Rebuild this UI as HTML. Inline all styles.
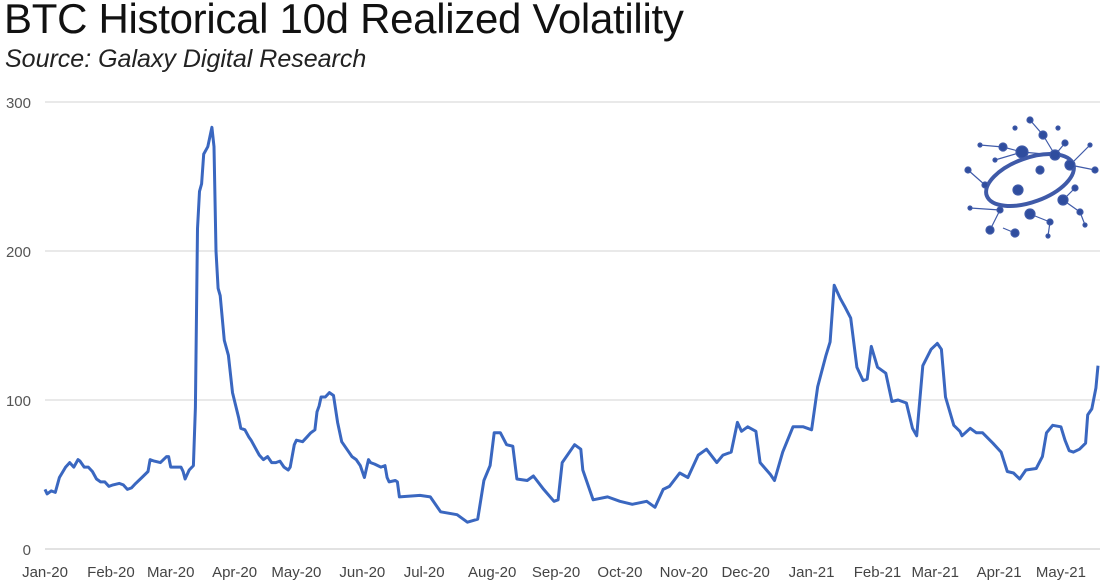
<!DOCTYPE html>
<html><head><meta charset="utf-8">
<style>
body{margin:0;background:#fff;width:1100px;height:580px;overflow:hidden;font-family:"Liberation Sans",sans-serif}
#title{position:absolute;left:4px;top:-5px;font-size:42px;color:#111;letter-spacing:-0.3px;white-space:nowrap}
#sub{position:absolute;left:5px;top:45px;font-size:25px;font-style:italic;color:#222;white-space:nowrap}
svg{position:absolute;left:0;top:0}
</style></head><body>
<div id="title">BTC Historical 10d Realized Volatility</div>
<div id="sub">Source: Galaxy Digital Research</div>
<svg id="chart" width="1100" height="580"></svg>
<script>
const dayIndex=[0,1,3,5,7,10,12,14,16,17,19,21,23,25,27,29,31,33,36,38,40,42,44,47,50,51,53,56,59,60,61,64,66,67,68,70,72,73,74,75,76,77,79,81,82,83,84,85,87,89,91,94,95,97,99,100,102,104,106,108,110,112,114,116,118,119,121,122,125,127,129,131,132,133,134,136,138,140,142,144,147,149,151,153,155,157,158,160,163,165,166,167,170,171,172,182,187,192,200,205,210,213,216,218,221,224,227,229,234,237,242,247,249,251,257,260,261,266,273,279,285,292,296,300,303,308,312,317,321,326,329,333,336,338,341,345,347,352,354,358,363,368,372,375,379,381,383,386,388,391,394,397,399,401,404,408,411,414,418,421,423,426,430,433,435,437,441,444,445,449,452,455,460,464,467,470,473,476,481,484,486,489,493,495,497,499,502,505,506,508,510,511];
const volValues=[40,37,39,38,48,55,58,55,60,59,55,55,52,47,45,45,42,43,44,43,40,41,44,48,52,60,59,58,62,62,55,55,55,52,47,53,56,95,215,240,245,265,270,283,270,200,175,170,140,130,105,88,81,80,75,73,68,63,60,62,58,58,59,55,53,55,70,73,72,75,78,80,92,96,102,102,105,103,85,72,66,62,60,56,48,60,58,57,55,56,48,45,46,45,35,36,35,25,23,18,20,46,56,78,78,70,69,47,46,49,40,32,33,58,70,67,53,33,35,32,30,32,28,40,42,51,48,63,67,58,63,65,85,79,82,79,58,50,46,65,82,82,80,109,130,139,177,168,163,155,122,113,114,136,122,118,99,100,98,81,76,123,134,138,134,102,83,79,76,81,78,78,71,65,52,51,47,53,54,62,78,83,82,73,66,65,67,71,90,94,108,123];
const yTicks=[0,100,200,300];
const xTickLabels=["Jan-20","Feb-20","Mar-20","Apr-20","May-20","Jun-20","Jul-20","Aug-20","Sep-20","Oct-20","Nov-20","Dec-20","Jan-21","Feb-21","Mar-21","Apr-21","May-21"];
const xTickDays=[0,32,61,92,122,154,184,217,248,279,310,340,372,404,432,463,493];
const NS="http://www.w3.org/2000/svg";
const svg=document.getElementById('chart');
const X0=45,X1=1098,DMAX=511,Y0=549,Y1=102,VMAX=300;
const xs=d=>X0+(X1-X0)*d/DMAX;
const ys=v=>Y0-(Y0-Y1)*v/VMAX;
function mk(t,a){const e=document.createElementNS(NS,t);for(const k in a)e.setAttribute(k,a[k]);svg.appendChild(e);return e;}
yTicks.forEach(v=>{
  const l=mk('line',{x1:45,x2:1100,y1:ys(v),y2:ys(v),stroke:v===0?'#d0d0d0':'#dcdcdc','stroke-width':1.2});
  
  
  const t=mk('text',{x:31,y:ys(v)+6,'text-anchor':'end','font-size':15,fill:'#555','font-family':'Liberation Sans, sans-serif'});
  t.textContent=v;
  
  
});
xTickLabels.forEach((s,i)=>{
  const t=mk('text',{x:xs(xTickDays[i]),y:577,'text-anchor':'middle','font-size':15,fill:'#444','font-family':'Liberation Sans, sans-serif'});
  t.textContent=s;
  
  
});
const p=mk('polyline',{points:dayIndex.map((d,i)=>xs(d).toFixed(1)+','+ys(volValues[i]).toFixed(1)).join(' '),fill:'none',stroke:'#3a67c0','stroke-width':3,'stroke-linejoin':'round'});


</script>
<svg width="1100" height="580" style="pointer-events:none">
<g stroke="#3f5aa8" stroke-width="1.2" fill="#2f4d9e">
<line x1="1022" y1="152" x2="1055" y2="155"/><line x1="1022" y1="152" x2="1003" y2="147"/><line x1="1022" y1="152" x2="995" y2="160"/>
<line x1="1043" y1="135" x2="1055" y2="155"/><line x1="1030" y1="120" x2="1043" y2="135"/><line x1="1065" y1="143" x2="1055" y2="155"/>
<line x1="1070" y1="165" x2="1095" y2="170"/><line x1="1070" y1="165" x2="1090" y2="145"/><line x1="1063" y1="200" x2="1080" y2="212"/>
<line x1="1063" y1="200" x2="1075" y2="188"/><line x1="1030" y1="214" x2="1050" y2="222"/><line x1="990" y1="230" x2="1000" y2="210"/>
<line x1="985" y1="185" x2="968" y2="170"/><line x1="1003" y1="147" x2="980" y2="145"/><line x1="1050" y1="222" x2="1048" y2="236"/>
<line x1="1015" y1="233" x2="1003" y2="228"/><line x1="1080" y1="212" x2="1085" y2="225"/><line x1="1000" y1="210" x2="970" y2="208"/>
<ellipse cx="1030" cy="180" rx="46" ry="22" fill="none" stroke-width="4" transform="rotate(-20 1030 180)"/>
<circle cx="1022" cy="152" r="6"/><circle cx="1055" cy="155" r="5"/><circle cx="1043" cy="135" r="4"/><circle cx="1003" cy="147" r="4"/>
<circle cx="1030" cy="120" r="3"/><circle cx="1065" cy="143" r="3"/><circle cx="1070" cy="165" r="5"/><circle cx="1095" cy="170" r="3"/>
<circle cx="1063" cy="200" r="5"/><circle cx="1018" cy="190" r="5"/><circle cx="1030" cy="214" r="5"/><circle cx="1050" cy="222" r="3"/>
<circle cx="990" cy="230" r="4"/><circle cx="1015" cy="233" r="4"/><circle cx="985" cy="185" r="3"/><circle cx="968" cy="170" r="3"/>
<circle cx="1000" cy="210" r="3"/><circle cx="1080" cy="212" r="3"/><circle cx="1090" cy="145" r="2"/><circle cx="995" cy="160" r="2"/>
<circle cx="980" cy="145" r="2"/><circle cx="1085" cy="225" r="2"/><circle cx="1048" cy="236" r="2"/><circle cx="970" cy="208" r="2"/>
<circle cx="1015" cy="128" r="2"/><circle cx="1058" cy="128" r="2"/><circle cx="1075" cy="188" r="3"/><circle cx="1040" cy="170" r="4"/>
</g></svg>
</body></html>
